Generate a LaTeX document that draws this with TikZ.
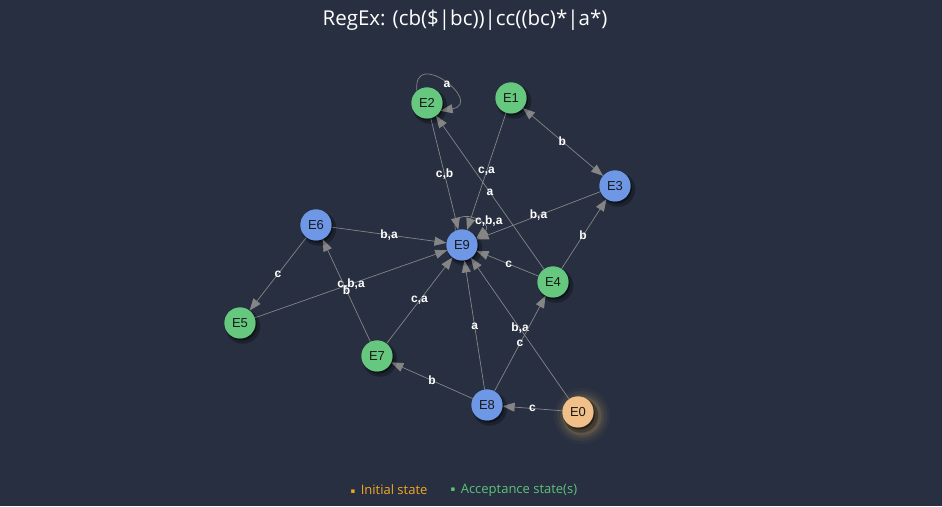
\documentclass[tikz,border=0pt]{standalone}
\usepackage{fontspec}
\setmainfont{Liberation Sans}
\newfontfamily\titlefont{Open Sans}
\newfontfamily\symfont{DejaVu Sans}
\usetikzlibrary{arrows.meta,shadows}
\definecolor{bg}{HTML}{272F41}
\definecolor{accgreen}{HTML}{66C87F}
\definecolor{nblue}{HTML}{6E98E6}
\definecolor{iorange}{HTML}{F0C088}
\definecolor{glow}{HTML}{F3C060}
\definecolor{egray}{HTML}{858585}
\definecolor{leginit}{HTML}{F5A623}
\definecolor{legacc}{HTML}{5EC27A}
\begin{document}
\begin{tikzpicture}[x=1pt,y=1pt,
  st/.style={circle,minimum size=31pt,inner sep=0pt,text=black!90,
    font=\fontsize{13}{13}\selectfont,
    drop shadow={shadow xshift=2.5pt,shadow yshift=-3pt,opacity=0.15,shadow scale=1.12,fill=black},
    drop shadow={shadow xshift=1.5pt,shadow yshift=-2pt,opacity=0.22,fill=black}},
  acc/.style={st,fill=accgreen},
  nrm/.style={st,fill=nblue},
  ini/.style={st,fill=iorange},
  edge/.style={draw=egray,line width=0.7pt,-{Triangle[length=12pt,width=9pt]}},
  lbl/.style={font=\bfseries\fontsize{12}{12}\selectfont,text=white,inner sep=1pt},
  legend/.style={font=\titlefont\fontsize{13}{13}\selectfont,anchor=west}]
\fill[bg] (0,0) rectangle (942,506);
\useasboundingbox (0,0) rectangle (942,506);

% glow for initial state
\foreach \r/\o in {28/0.04,25/0.06,22/0.08,19.5/0.12}
  \fill[glow,opacity=\o] (582,90) circle (\r);

\node[acc] (E2) at (427,403) {E2};
\node[acc] (E1) at (511,408) {E1};
\node[nrm] (E3) at (615,320) {E3};
\node[nrm] (E6) at (316,281) {E6};
\node[nrm] (E9) at (462,261) {E9};
\node[acc] (E4) at (553,224) {E4};
\node[acc] (E5) at (240,183) {E5};
\node[acc] (E7) at (377,150) {E7};
\node[nrm] (E8) at (487,101) {E8};
\node[ini] (E0) at (578,94) {E0};

\draw[edge] (E2) -- node[lbl]{c,b} (E9);
\draw[edge] (E1) -- node[lbl]{c,a} (E9);
\draw[edge] (E4) -- node[lbl]{a} (E2);
\draw[edge] (E3) -- node[lbl]{b,a} (E9);
\draw[edge] (E6) -- node[lbl]{b,a} (E9);
\draw[edge] (E5) -- node[lbl]{c,b,a} (E9);
\draw[edge] (E7) -- node[lbl]{b} (E6);
\draw[edge] (E6) -- node[lbl]{c} (E5);
\draw[edge] (E7) -- node[lbl]{c,a} (E9);
\draw[edge] (E8) -- node[lbl,pos=0.49]{a} (E9);
\draw[edge] (E0) -- node[lbl]{b,a} (E9);
\draw[edge] (E8) -- node[lbl]{c} (E4);
\draw[edge] (E8) -- node[lbl]{b} (E7);
\draw[edge] (E0) -- node[lbl]{c} (E8);
\draw[edge] (E4) -- node[lbl,pos=0.48]{b} (E3);
\draw[edge] (E4) -- node[lbl,pos=0.48]{c} (E9);
\draw[edge,{Triangle[length=12pt,width=9pt]}-{Triangle[length=12pt,width=9pt]}] (E1) -- node[lbl,pos=0.49]{b} (E3);

% self loops
\draw[edge] (E2.130) .. controls +(96:45) and +(10:45) .. node[lbl,pos=0.55]{a} (E2.-30);
\draw[edge] (E9.115) .. controls +(100:28) and +(40:25) .. node[lbl,pos=0.6,anchor=west,xshift=-2pt]{c,b,a} (E9.25);

% redraw nodes on top of edges
\node[acc] at (E2) {E2};
\node[acc] at (E1) {E1};
\node[nrm] at (E3) {E3};
\node[nrm] at (E6) {E6};
\node[nrm] at (E9) {E9};
\node[acc] at (E4) {E4};
\node[acc] at (E5) {E5};
\node[acc] at (E7) {E7};
\node[nrm] at (E8) {E8};
\node[ini] at (E0) {E0};

\node[text=white,font=\titlefont\fontsize{20.5}{24}\selectfont] (title) at (465,486) {RegEx: (cb(\$|bc))|cc((bc)*|a*)};

\node[legend,text=leginit] (leg1) at (347,16) {\raisebox{1.5pt}{\symfont\fontsize{7}{7}\selectfont ▪}\, Initial state};
\node[legend,text=legacc] (leg2) at (447,16) {\raisebox{1.5pt}{\symfont\fontsize{7}{7}\selectfont ▪}\, Acceptance state(s)};
\end{tikzpicture}
\end{document}
